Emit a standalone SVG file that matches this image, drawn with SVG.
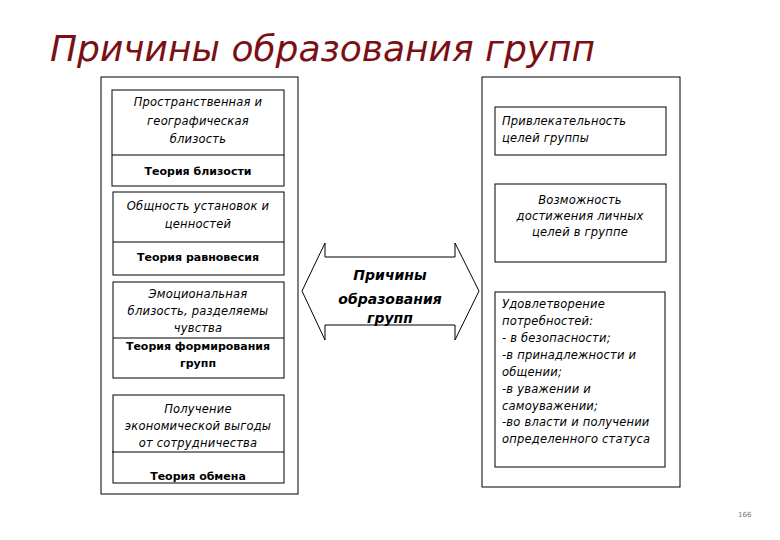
<svg xmlns="http://www.w3.org/2000/svg" width="780" height="540" viewBox="0 0 780 540">
<style>
.box{fill:#fff;stroke:#000;stroke-width:1}
.frame{fill:none;stroke:#000;stroke-width:1}
.it{font-family:"DejaVu Sans",sans-serif;font-style:italic;font-size:11.5px;letter-spacing:0.2px;fill:#000}
.b{font-family:"DejaVu Sans",sans-serif;font-weight:bold;font-size:11px;fill:#000}
.c{text-anchor:middle}
.title{font-family:"DejaVu Sans",sans-serif;font-style:italic;font-size:36px;fill:#7a1015}
.ctr{font-family:"DejaVu Sans",sans-serif;font-style:italic;font-weight:bold;font-size:14px;fill:#000;text-anchor:middle}
</style>
<rect width="780" height="540" fill="#fff"/>
<text class="title" x="50" y="61">Причины образования групп</text>
<g id="left-frame"><rect class="frame" x="101" y="77" width="197" height="417"/></g>
<g id="right-frame"><rect class="frame" x="482" y="77" width="198" height="410"/></g>
<g id="n1">
<rect class="box" x="112" y="90" width="172" height="96"/>
<line class="frame" x1="112" y1="155" x2="284" y2="155"/>
<text class="it c" x="198" y="106">Пространственная и</text>
<text class="it c" x="198" y="125">географическая</text>
<text class="it c" x="198" y="143">близость</text>
<text class="b c" x="198" y="175">Теория близости</text>
</g>
<g id="n2">
<rect class="box" x="113" y="192" width="171" height="83"/>
<line class="frame" x1="113" y1="242" x2="284" y2="242"/>
<text class="it c" x="198" y="210">Общность установок и</text>
<text class="it c" x="198" y="228">ценностей</text>
<text class="b c" x="198" y="261">Теория равновесия</text>
</g>
<g id="n3">
<rect class="box" x="113" y="282" width="171" height="96"/>
<line class="frame" x1="113" y1="338" x2="284" y2="338"/>
<text class="it c" x="198" y="298">Эмоциональная</text>
<text class="it c" x="198" y="315">близость, разделяемы</text>
<text class="it c" x="198" y="332">чувства</text>
<text class="b c" x="198" y="350">Теория формирования</text>
<text class="b c" x="198" y="367">групп</text>
</g>
<g id="n4">
<rect class="box" x="113" y="395" width="171" height="88"/>
<line class="frame" x1="112" y1="452" x2="284" y2="452"/>
<text class="it c" x="198" y="413">Получение</text>
<text class="it c" x="198" y="430">экономической выгоды</text>
<text class="it c" x="198" y="447">от сотрудничества</text>
<text class="b c" x="198" y="480">Теория обмена</text>
</g>
<g id="center">
<polygon class="box" points="302,291 325,243 325,257 455,257 455,243 479,291 455,340 455,325 325,325 325,340"/>
<text class="ctr" x="390" y="280">Причины</text>
<text class="ctr" x="390" y="304">образования</text>
<text class="ctr" x="390" y="323">групп</text>
</g>
<g id="r1">
<rect class="box" x="495" y="107" width="171" height="48"/>
<text class="it" x="502" y="125">Привлекательность</text>
<text class="it" x="502" y="142">целей группы</text>
</g>
<g id="r2">
<rect class="box" x="495" y="184" width="171" height="78"/>
<text class="it c" x="580" y="204">Возможность</text>
<text class="it c" x="580" y="220">достижения личных</text>
<text class="it c" x="580" y="236">целей в группе</text>
</g>
<g id="r3">
<rect class="box" x="495" y="292" width="170" height="175"/>
<text class="it" x="502" y="308">Удовлетворение</text>
<text class="it" x="502" y="325">потребностей:</text>
<text class="it" x="502" y="342">- в безопасности;</text>
<text class="it" x="502" y="359">-в принадлежности и</text>
<text class="it" x="502" y="376">общении;</text>
<text class="it" x="502" y="393">-в уважении и</text>
<text class="it" x="502" y="410">самоуважении;</text>
<text class="it" x="502" y="426">-во власти и получении</text>
<text class="it" x="502" y="443">определенного статуса</text>
</g>
<text x="738" y="517" font-family="DejaVu Sans,sans-serif" font-size="7" fill="#777">166</text>
</svg>
